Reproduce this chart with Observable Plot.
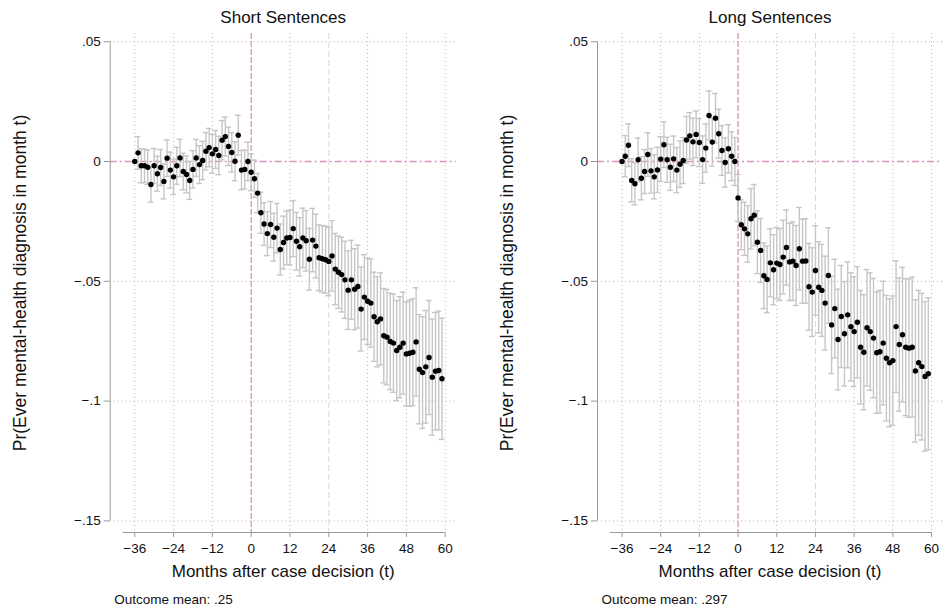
<!DOCTYPE html>
<html>
<head>
<meta charset="utf-8">
<script src="https://cdn.jsdelivr.net/npm/d3@7"></script>
<script src="https://cdn.jsdelivr.net/npm/@observablehq/plot@0.6"></script>
<style>
  body { margin: 0; background: #fff; font-family: "Liberation Sans", Arial, sans-serif; }
  #charts { display: flex; width: 942px; height: 612px; }
</style>
</head>
<body>
<div id="charts"></div>
<script>
// months relative to the case decision, -36 .. 59
const months = d3.range(-36, 60)

// point estimates, short sentences
const shortEst = [
  0, 0.0036, -0.0018, -0.0018, -0.0024, -0.0096, -0.0018, -0.0051, -0.0025, -0.0083,
  0.0014, -0.0036, -0.0064, -0.0018, 0.0015, -0.0042, -0.0054, -0.0079, -0.0033, 0.0015,
  -0.0013, 0.0004, 0.0043, 0.0058, 0.0032, 0.0050, 0.0025, 0.0089, 0.0104, 0.0063,
  0.0038, 0.0001, 0.0110, -0.0036, -0.0033, 0.0000,
  -0.0045, -0.0072, -0.0132, -0.0214, -0.0261, -0.0301, -0.0263, -0.0316, -0.0278, -0.0367,
  -0.0338, -0.0319, -0.0317, -0.0280, -0.0333, -0.0356, -0.0319, -0.0331, -0.0408, -0.0328,
  -0.0353, -0.0402, -0.0406, -0.0410, -0.0417, -0.0394, -0.0449, -0.0462, -0.0472, -0.0494,
  -0.0537, -0.0494, -0.0533, -0.0522, -0.0616, -0.0566, -0.0583, -0.0591, -0.0648, -0.0669,
  -0.0657, -0.0727, -0.0733, -0.0751, -0.0758, -0.0789, -0.0775, -0.0758, -0.0803, -0.0800,
  -0.0796, -0.0753, -0.0867, -0.0881, -0.0857, -0.0818, -0.0900, -0.0875, -0.0872, -0.0907
]
// half width of the confidence interval, short sentences
const shortCI = [
  0, 0.0068, 0.0071, 0.0070, 0.0072, 0.0074, 0.0072, 0.0073, 0.0075, 0.0073,
  0.0076, 0.0075, 0.0074, 0.0077, 0.0078, 0.0076, 0.0077, 0.0079, 0.0078, 0.0077,
  0.0079, 0.0080, 0.0078, 0.0080, 0.0081, 0.0079, 0.0080, 0.0082, 0.0081, 0.0080,
  0.0082, 0.0081, 0.0083, 0.0082, 0.0081, 0.0080,
  0.0077, 0.0078, 0.0082, 0.0086, 0.0089, 0.0092, 0.0096, 0.0100, 0.0103, 0.0106,
  0.0110, 0.0112, 0.0114, 0.0117, 0.0120, 0.0122, 0.0124, 0.0126, 0.0129, 0.0132,
  0.0133, 0.0137, 0.0139, 0.0140, 0.0143, 0.0147, 0.0149, 0.0151, 0.0156, 0.0161,
  0.0164, 0.0165, 0.0169, 0.0173, 0.0175, 0.0177, 0.0180, 0.0184, 0.0186, 0.0188,
  0.0192, 0.0197, 0.0199, 0.0201, 0.0205, 0.0209, 0.0211, 0.0213, 0.0217, 0.0221,
  0.0223, 0.0226, 0.0228, 0.0233, 0.0235, 0.0238, 0.0242, 0.0245, 0.0248, 0.0253
]

// point estimates, long sentences
const longEst = [
  0, 0.0022, 0.0068, -0.0079, -0.0093, 0.0007, -0.0070, -0.0042, 0.0029, -0.0039,
  -0.0064, -0.0035, 0.0010, 0.0070, 0.0007, -0.0024, 0.0011, -0.0036, -0.0011, 0.0004,
  0.0090, 0.0107, 0.0082, 0.0113, 0.0079, 0.0008, 0.0056, 0.0192, 0.0081, 0.0181,
  0.0116, 0.0046, -0.0004, 0.0053, 0.0022, 0.0000,
  -0.0152, -0.0264, -0.0281, -0.0302, -0.0239, -0.0224, -0.0337, -0.0371, -0.0477, -0.0492,
  -0.0423, -0.0452, -0.0424, -0.0430, -0.0399, -0.0359, -0.0419, -0.0416, -0.0434, -0.0364,
  -0.0416, -0.0415, -0.0523, -0.0545, -0.0455, -0.0525, -0.0538, -0.0591, -0.0476, -0.0682,
  -0.0614, -0.0743, -0.0647, -0.0719, -0.0640, -0.0690, -0.0710, -0.0671, -0.0775, -0.0796,
  -0.0694, -0.0710, -0.0737, -0.0798, -0.0794, -0.0758, -0.0821, -0.0840, -0.0831, -0.0689,
  -0.0764, -0.0723, -0.0775, -0.0779, -0.0775, -0.0874, -0.0840, -0.0856, -0.0897, -0.0886
]
// half width of the confidence interval, long sentences
const longCI = [
  0, 0.0086, 0.0089, 0.0090, 0.0088, 0.0091, 0.0090, 0.0092, 0.0091, 0.0093,
  0.0092, 0.0094, 0.0093, 0.0095, 0.0094, 0.0096, 0.0095, 0.0094, 0.0097, 0.0096,
  0.0098, 0.0097, 0.0099, 0.0098, 0.0100, 0.0099, 0.0101, 0.0102, 0.0100, 0.0103,
  0.0102, 0.0104, 0.0103, 0.0101, 0.0102, 0.0100,
  0.0098, 0.0104, 0.0111, 0.0118, 0.0126, 0.0128, 0.0131, 0.0133, 0.0137, 0.0139,
  0.0142, 0.0146, 0.0148, 0.0150, 0.0154, 0.0157, 0.0161, 0.0164, 0.0167, 0.0172,
  0.0175, 0.0177, 0.0181, 0.0185, 0.0187, 0.0190, 0.0192, 0.0196, 0.0199, 0.0203,
  0.0206, 0.0210, 0.0213, 0.0218, 0.0221, 0.0226, 0.0229, 0.0232, 0.0237, 0.0240,
  0.0243, 0.0245, 0.0249, 0.0253, 0.0256, 0.0258, 0.0262, 0.0267, 0.0270, 0.0275,
  0.0278, 0.0281, 0.0286, 0.0289, 0.0292, 0.0297, 0.0302, 0.0306, 0.0312, 0.0317
]

const yTicks = [-0.15, -0.1, -0.05, 0, 0.05]
const yTickLabels = ["−.15", "−.1", "−.05", "0", ".05"]
const xTicks = [-36, -24, -12, 0, 12, 24, 36, 48, 60]
const xTickLabels = ["−36", "−24", "−12", "0", "12", "24", "36", "48", "60"]

const yLabel = "Pr(Ever mental-health diagnosis in month t)"
const xLabel = "Months after case decision (t)"

const pink = "#d794bd"
const barGray = "#c6c6c6"
const axisGray = "#9a9a9a"
const font = "'Liberation Sans', Arial, sans-serif"
const xDomain = [-43.6, 63.4]
const yDomain = [-0.15484, 0.05342]

function panel({ title, est, ci, caption, marginLeft, marginRight }) {
  const data = months.map((t, i) => ({ t, est: est[i], lo: est[i] - ci[i], hi: est[i] + ci[i], ci: ci[i] }))
  const bars = data.filter(d => d.ci > 0)
  const grid = { stroke: "#b8b8b8", strokeOpacity: 1, strokeDasharray: "1,3" }
  const cap = { stroke: barGray, strokeWidth: 1.4 }

  return Plot.plot({
    width: 471,
    height: 612,
    marginLeft, marginRight,
    marginTop: 33,
    marginBottom: 80,
    style: { fontFamily: font, fontSize: "13.5px", color: "#111", background: "#fff" },
    x: { domain: xDomain },
    y: { domain: yDomain },
    marks: [
      Plot.gridY(yTicks.filter(v => v !== 0), grid),
      Plot.gridX(xTicks.filter(v => v !== 0 && v !== 24), grid),
      Plot.ruleX([24], { stroke: "#d8d8d8", strokeDasharray: "6,3" }),
      Plot.ruleY([0], { stroke: pink, strokeWidth: 1.3, strokeDasharray: "7,3,2,3" }),
      Plot.ruleX([0], { stroke: pink, strokeWidth: 1.3, strokeDasharray: "6,2" }),
      // error bars with caps
      Plot.ruleX(bars, { x: "t", y1: "lo", y2: "hi", ...cap }),
      Plot.ruleY(bars, { y: "hi", x1: d => d.t - 0.9, x2: d => d.t + 0.9, ...cap }),
      Plot.ruleY(bars, { y: "lo", x1: d => d.t - 0.9, x2: d => d.t + 0.9, ...cap }),
      Plot.dot(data, { x: "t", y: "est", r: 2.7, fill: "#000" }),
      // axes
      Plot.axisY({ ticks: yTicks, tickFormat: d => yTickLabels[yTicks.indexOf(d)], tickSize: 6, tickPadding: 3.5,
        stroke: axisGray, fill: "#111", fontSize: 13.5, label: null }),
      Plot.ruleX([xDomain[0]], { y1: yTicks[0], y2: yTicks[yTicks.length - 1], stroke: axisGray }),
      Plot.axisX({ ticks: xTicks, tickFormat: d => xTickLabels[xTicks.indexOf(d)], tickSize: 5, tickPadding: 6,
        stroke: axisGray, fill: "#111", fontSize: 13.5, label: null }),
      Plot.ruleY([yDomain[0]], { x1: -39.6, x2: xTicks[xTicks.length - 1], stroke: axisGray }),
      // texts
      Plot.text([title], { frameAnchor: "top", dy: -10.3, lineAnchor: "bottom", fontSize: 17, fill: "#111" }),
      Plot.text([xLabel], { frameAnchor: "bottom", dy: 44, lineAnchor: "bottom", fontSize: 17, fill: "#111" }),
      Plot.text([yLabel], { frameAnchor: "left", dx: -90, textAnchor: "middle", lineAnchor: "middle", rotate: -90,
        fontSize: 17.5, fill: "#111" }),
      Plot.text([caption], { frameAnchor: "bottom-left", dx: 4, dy: 71, textAnchor: "start", lineAnchor: "bottom",
        fontSize: 13.5, fill: "#111" })
    ]
  })
}

const charts = d3.select("#charts")
charts.append(() => panel({ title: "Short Sentences", est: shortEst, ci: shortCI,
  caption: "Outcome mean: .25", marginLeft: 109.7, marginRight: 15.3 }))
charts.append(() => panel({ title: "Long Sentences", est: longEst, ci: longCI,
  caption: "Outcome mean: .297", marginLeft: 126, marginRight: 0 }))
</script>
</body>
</html>
